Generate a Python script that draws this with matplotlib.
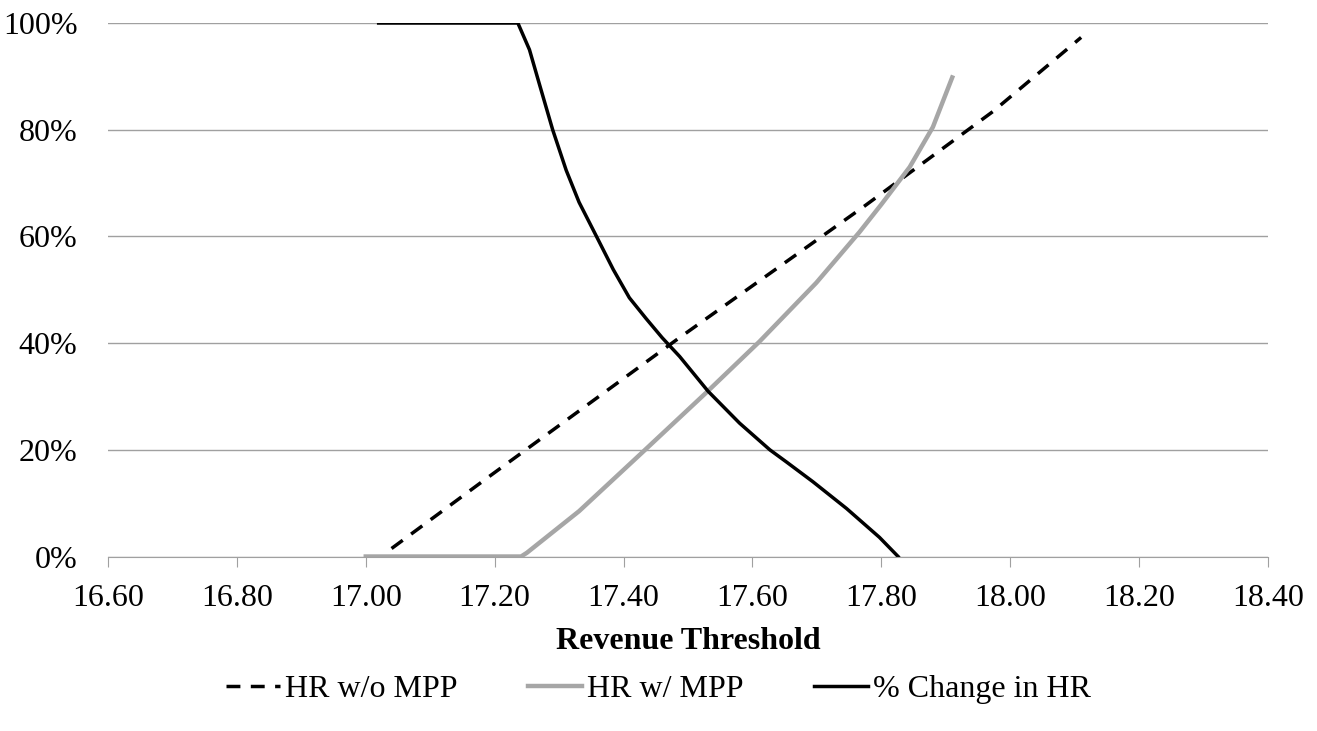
import matplotlib
matplotlib.use('Agg')
import matplotlib.pyplot as plt
from matplotlib.ticker import FuncFormatter, MultipleLocator

# data (x = revenue threshold, y = percent)
hr_wo_x = [17.04, 17.187, 17.482, 17.774, 17.973, 18.11]
hr_wo_y = [1.5, 14.6, 40.6, 65.7, 83.4, 97.3]

hr_w_x = [17.00, 17.241, 17.25, 17.331, 17.429, 17.529, 17.611, 17.699, 17.766, 17.80, 17.844, 17.88, 17.91]
hr_w_y = [0.0, 0.0, 0.7, 8.5, 19.5, 30.8, 40.3, 51.3, 60.8, 66.0, 73.0, 80.5, 89.8]

chg_x = [17.02, 17.236, 17.254, 17.27, 17.29, 17.311, 17.331, 17.358, 17.384, 17.409, 17.435, 17.46,
         17.487, 17.531, 17.58, 17.627, 17.653, 17.694, 17.746, 17.797, 17.826]
chg_y = [100.0, 100.0, 95.0, 88.3, 80.0, 72.4, 66.4, 60.0, 53.8, 48.5, 44.6, 41.0,
         37.5, 31.0, 25.0, 20.0, 17.7, 14.0, 9.0, 3.6, 0.0]

plt.rcParams['font.family'] = 'Liberation Serif'
fs = 23

fig = plt.figure(figsize=(13.17, 7.31), dpi=100)
ax = fig.add_axes([0.082, 0.2387, 0.8808, 0.7298])

ax.plot(hr_wo_x, hr_wo_y, color='black', linewidth=2.5, dashes=(4, 3), label='HR w/o MPP')
ax.plot(hr_w_x, hr_w_y, color='#A6A6A6', linewidth=3.2, label='HR w/ MPP')
ax.plot(chg_x, chg_y, color='black', linewidth=2.5, label='% Change in HR')

ax.set_xlim(16.6, 18.4)
ax.set_ylim(0, 100)
ax.xaxis.set_major_locator(MultipleLocator(0.2))
ax.yaxis.set_major_locator(MultipleLocator(20))
ax.xaxis.set_major_formatter(FuncFormatter(lambda v, p: f'{v:.2f}'))
ax.yaxis.set_major_formatter(FuncFormatter(lambda v, p: f'{v:.0f}%'))

ax.grid(axis='y', color='#A0A0A0', linewidth=1)
ax.set_axisbelow(True)
for s in ['left', 'right', 'top']:
    ax.spines[s].set_visible(False)
ax.spines['bottom'].set_color('#A0A0A0')
ax.tick_params(axis='x', direction='out', length=7, color='#A0A0A0', labelsize=fs, pad=13)
ax.tick_params(axis='y', length=0, labelsize=fs, pad=22)

ax.set_xlabel('Revenue Threshold', fontsize=fs, fontweight='bold', labelpad=10)

fig.legend(loc='center', bbox_to_anchor=(0.5, 0.057), ncol=3, frameon=False, fontsize=fs,
           handlelength=1.7, handletextpad=0.15, columnspacing=2.2)

fig.savefig('out.png', dpi=100)
